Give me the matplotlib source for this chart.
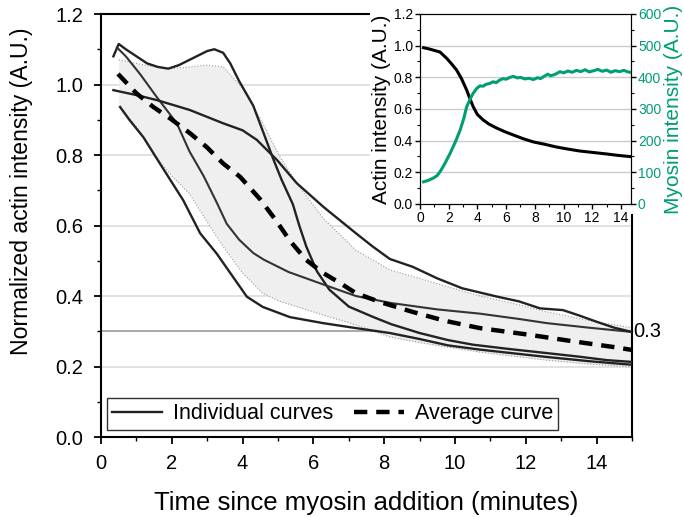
import matplotlib
matplotlib.use('Agg')
import matplotlib.pyplot as plt
from matplotlib.patches import Rectangle
from matplotlib.ticker import MultipleLocator, FormatStrFormatter

plt.rcParams['font.family'] = ['Liberation Sans', 'DejaVu Sans']

# individual curves (time in minutes, normalized actin)
t_a = [0.35, 0.5, 0.7, 1.0, 1.3, 1.6, 1.9, 2.2, 2.5, 2.8, 3.0, 3.2, 3.45, 3.65, 3.9, 4.1, 4.3, 4.6,
       4.86, 5.1, 5.42, 5.6, 5.8, 6.1, 6.45, 7.0, 7.7, 8.2, 9.0, 9.8, 10.5, 11.5, 12.6, 13.5, 14.3, 15.0]
v_a = [1.08, 1.115, 1.10, 1.08, 1.06, 1.05, 1.045, 1.055, 1.07, 1.085, 1.095, 1.10, 1.09, 1.06, 1.01,
       0.975, 0.94, 0.86, 0.79, 0.73, 0.66, 0.60, 0.54, 0.47, 0.418, 0.37, 0.34, 0.32, 0.295, 0.275,
       0.262, 0.25, 0.238, 0.228, 0.218, 0.213]

t_b = [0.45, 0.7, 1.1, 1.57, 2.14, 2.5, 2.9, 3.27, 3.55, 3.9, 4.3, 4.6, 5.3, 6.3, 7.2, 8.2, 9.5,
       10.7, 11.8, 12.6, 13.8, 15.0]
v_b = [1.105, 1.08, 1.03, 0.965, 0.89, 0.81, 0.74, 0.665, 0.605, 0.56, 0.522, 0.503, 0.468, 0.432,
       0.40, 0.38, 0.362, 0.35, 0.335, 0.323, 0.31, 0.298]

t_c = [0.35, 1.0, 1.57, 2.5, 3.45, 4.0, 4.4, 4.97, 5.53, 6.28, 7.2, 7.68, 8.16, 8.8, 9.5, 10.2,
       11.2, 11.8, 12.4, 13.05, 13.5, 14.0, 14.5, 15.0]
v_c = [0.984, 0.97, 0.956, 0.928, 0.89, 0.87, 0.843, 0.786, 0.72, 0.653, 0.578, 0.54, 0.505, 0.483,
       0.45, 0.422, 0.398, 0.385, 0.365, 0.36, 0.345, 0.327, 0.31, 0.298]

t_d = [0.54, 0.8, 1.2, 1.7, 2.32, 2.8, 3.27, 3.73, 4.12, 4.57, 5.34, 6.28, 7.2, 8.16, 9.0, 9.8,
       10.7, 11.6, 12.6, 13.8, 15.0]
v_d = [0.936, 0.90, 0.85, 0.77, 0.672, 0.578, 0.52, 0.454, 0.398, 0.369, 0.34, 0.323, 0.309, 0.295,
       0.278, 0.26, 0.248, 0.238, 0.227, 0.215, 0.205]

# average curve
t_avg = [0.48, 1.0, 1.48, 1.95, 2.51, 2.98, 3.45, 3.93, 4.49, 4.96, 5.34, 5.8, 6.28, 6.75, 7.2,
         7.88, 8.8, 9.7, 10.7, 12.1, 13.3, 14.5, 15.0]
v_avg = [1.03, 0.975, 0.936, 0.904, 0.862, 0.823, 0.776, 0.738, 0.675, 0.612, 0.556, 0.502, 0.465,
         0.437, 0.408, 0.383, 0.355, 0.33, 0.309, 0.29, 0.272, 0.255, 0.247]

# shaded band (upper / lower edge)
t_band = [0.5, 1.0, 1.5, 2.0, 2.5, 3.0, 3.45, 4.0, 4.57, 5.05, 5.53, 6.28, 7.2, 8.16, 9.0, 9.8,
          10.7, 11.6, 12.6, 13.8, 15.0]
v_up = [1.07, 1.06, 1.05, 1.045, 1.05, 1.055, 1.05, 0.99, 0.89, 0.795, 0.72, 0.62, 0.53, 0.474,
        0.45, 0.426, 0.40, 0.38, 0.355, 0.33, 0.31]
v_lo = [0.94, 0.88, 0.80, 0.74, 0.69, 0.61, 0.54, 0.465, 0.408, 0.385, 0.37, 0.346, 0.318, 0.284,
        0.268, 0.255, 0.241, 0.23, 0.218, 0.207, 0.199]

# inset: single example
t_in_actin = [0.25, 0.6, 1.0, 1.39, 1.86, 2.2, 2.55, 2.9, 3.25, 3.5, 3.71, 4.0, 4.4, 4.8, 5.33, 5.9,
              6.5, 7.2, 7.9, 8.7, 9.5, 10.3, 11.1, 12.0, 13.0, 13.8, 14.8]
v_in_actin = [0.987, 0.98, 0.97, 0.96, 0.92, 0.885, 0.846, 0.79, 0.72, 0.66, 0.614, 0.565, 0.531,
              0.505, 0.48, 0.457, 0.436, 0.412, 0.392, 0.377, 0.36, 0.347, 0.335, 0.326, 0.316,
              0.307, 0.298]
t_in_myo = [0.25, 0.6, 0.93, 1.2, 1.4, 1.7, 2.1, 2.5, 2.8, 3.05, 3.25, 3.5, 3.71, 3.95, 4.18, 4.4,
            4.6, 4.88, 5.1, 5.3, 5.57, 5.8, 6.0, 6.27, 6.5, 6.8, 7.0, 7.3, 7.6, 7.9, 8.2, 8.4, 8.6,
            8.9, 9.1, 9.4, 9.75, 10.0, 10.3, 10.6, 10.9, 11.2, 11.5, 11.8, 12.1, 12.4, 12.7, 13.0,
            13.3, 13.6, 13.9, 14.2, 14.5, 14.8]
v_in_myo = [70, 75, 82, 90, 102, 125, 160, 200, 234, 270, 307, 332, 350, 365, 373, 372, 378, 381,
            386, 383, 392, 396, 394, 400, 403, 398, 400, 395, 397, 393, 399, 396, 402, 410, 405,
            409, 418, 414, 420, 416, 422, 418, 424, 417, 421, 425, 419, 423, 416, 421, 418, 422,
            417, 415]

green = '#009E73'
curve_col = '#222222'

fig = plt.figure(figsize=(6.84, 5.17), dpi=100)
ax = fig.add_axes([0.1477, 0.1547, 0.7763, 0.8182])

for v in [0.2, 0.4, 0.6, 0.8, 1.0]:
    ax.axhline(v, color='#dddddd', lw=1.2, zorder=0)
ax.axhline(0.3, color='#999999', lw=1.2, zorder=0)

ax.fill_between(t_band, v_lo, v_up, color='#efefef', lw=0, zorder=1)
ax.plot(t_band, v_up, color='#999999', lw=0.8, ls=':', zorder=2)
ax.plot(t_band, v_lo, color='#999999', lw=0.8, ls=':', zorder=2)

ax.plot(t_a, v_a, color=curve_col, lw=1.7, zorder=3, label='Individual curves')
ax.plot(t_b, v_b, color='#333333', lw=1.5, zorder=3)
ax.plot(t_c, v_c, color=curve_col, lw=1.7, zorder=3)
ax.plot(t_d, v_d, color=curve_col, lw=1.7, zorder=3)
ax.plot(t_avg, v_avg, color='black', lw=3.2, ls=(0, (3, 2)), zorder=4, label='Average curve')

ax.set_xlim(0, 15)
ax.set_ylim(0, 1.2)
ax.xaxis.set_major_locator(MultipleLocator(2))
ax.xaxis.set_minor_locator(MultipleLocator(1))
ax.yaxis.set_major_locator(MultipleLocator(0.2))
ax.yaxis.set_minor_locator(MultipleLocator(0.1))
ax.yaxis.set_major_formatter(FormatStrFormatter('%.1f'))
ax.tick_params(which='major', direction='out', length=5, width=1.3, labelsize=14.5)
ax.tick_params(axis='y', which='major', pad=8)
ax.tick_params(axis='x', which='major', pad=7)
ax.tick_params(which='minor', direction='out', length=3, width=1.0)
for s in ax.spines.values():
    s.set_linewidth(1.5)
ax.set_xlabel('Time since myosin addition (minutes)', fontsize=18.5, labelpad=13)
ax.set_ylabel('Normalized actin intensity (A.U.)', fontsize=16.6)
ax.yaxis.set_label_coords(-0.128, 0.58)
ax.text(1.002, 0.3, '0.3', transform=ax.get_yaxis_transform(), fontsize=14.5,
        va='center', ha='left')

leg = ax.legend(loc='lower left', bbox_to_anchor=(0.011, 0.017), ncol=2, fontsize=15.5,
                frameon=True, fancybox=False, borderaxespad=0, handlelength=2.3,
                columnspacing=1.0, borderpad=0.25, handletextpad=0.5)
leg.get_frame().set_edgecolor('black')
leg.get_frame().set_linewidth(1.0)

# white backing for inset
fig.patches.append(Rectangle((370 / 684, 1 - 214 / 517), 314 / 684, 214 / 517,
                             transform=fig.transFigure, facecolor='white', edgecolor='none',
                             zorder=1))

ins = fig.add_axes([420 / 684, 1 - 204 / 517, 211 / 684, 190 / 517])
ins.set_zorder(2)
for v in [0.2, 0.4, 0.6, 0.8, 1.0]:
    ins.axhline(v, color='#cccccc', lw=1.0, zorder=0)
ins.plot(t_in_actin, v_in_actin, color='black', lw=2.2, zorder=3)
ins.set_xlim(0, 14.7)
ins.set_ylim(0, 1.2)
ins.xaxis.set_major_locator(MultipleLocator(2))
ins.xaxis.set_minor_locator(MultipleLocator(1))
ins.yaxis.set_major_locator(MultipleLocator(0.2))
ins.yaxis.set_minor_locator(MultipleLocator(0.1))
ins.yaxis.set_major_formatter(FormatStrFormatter('%.1f'))
ins.tick_params(which='major', direction='out', length=3.5, width=1.0, labelsize=10, pad=1.5)
ins.tick_params(which='minor', direction='out', length=2, width=0.8)
ins.set_ylabel('Actin intensity (A.U.)', fontsize=15, labelpad=2)

ins2 = ins.twinx()
ins2.plot(t_in_myo, v_in_myo, color=green, lw=2.2)
ins2.set_ylim(0, 600)
ins2.yaxis.set_major_locator(MultipleLocator(100))
ins2.yaxis.set_minor_locator(MultipleLocator(50))
ins2.tick_params(axis='y', which='major', direction='out', length=3.5, width=1.0, labelsize=10,
                 labelcolor=green, pad=1.5)
ins2.tick_params(axis='y', which='minor', direction='out', length=2, width=0.8)
ins2.set_ylabel('Myosin intensity (A.U.)', fontsize=15, color=green, labelpad=2)

fig.savefig('out.png', dpi=100)
